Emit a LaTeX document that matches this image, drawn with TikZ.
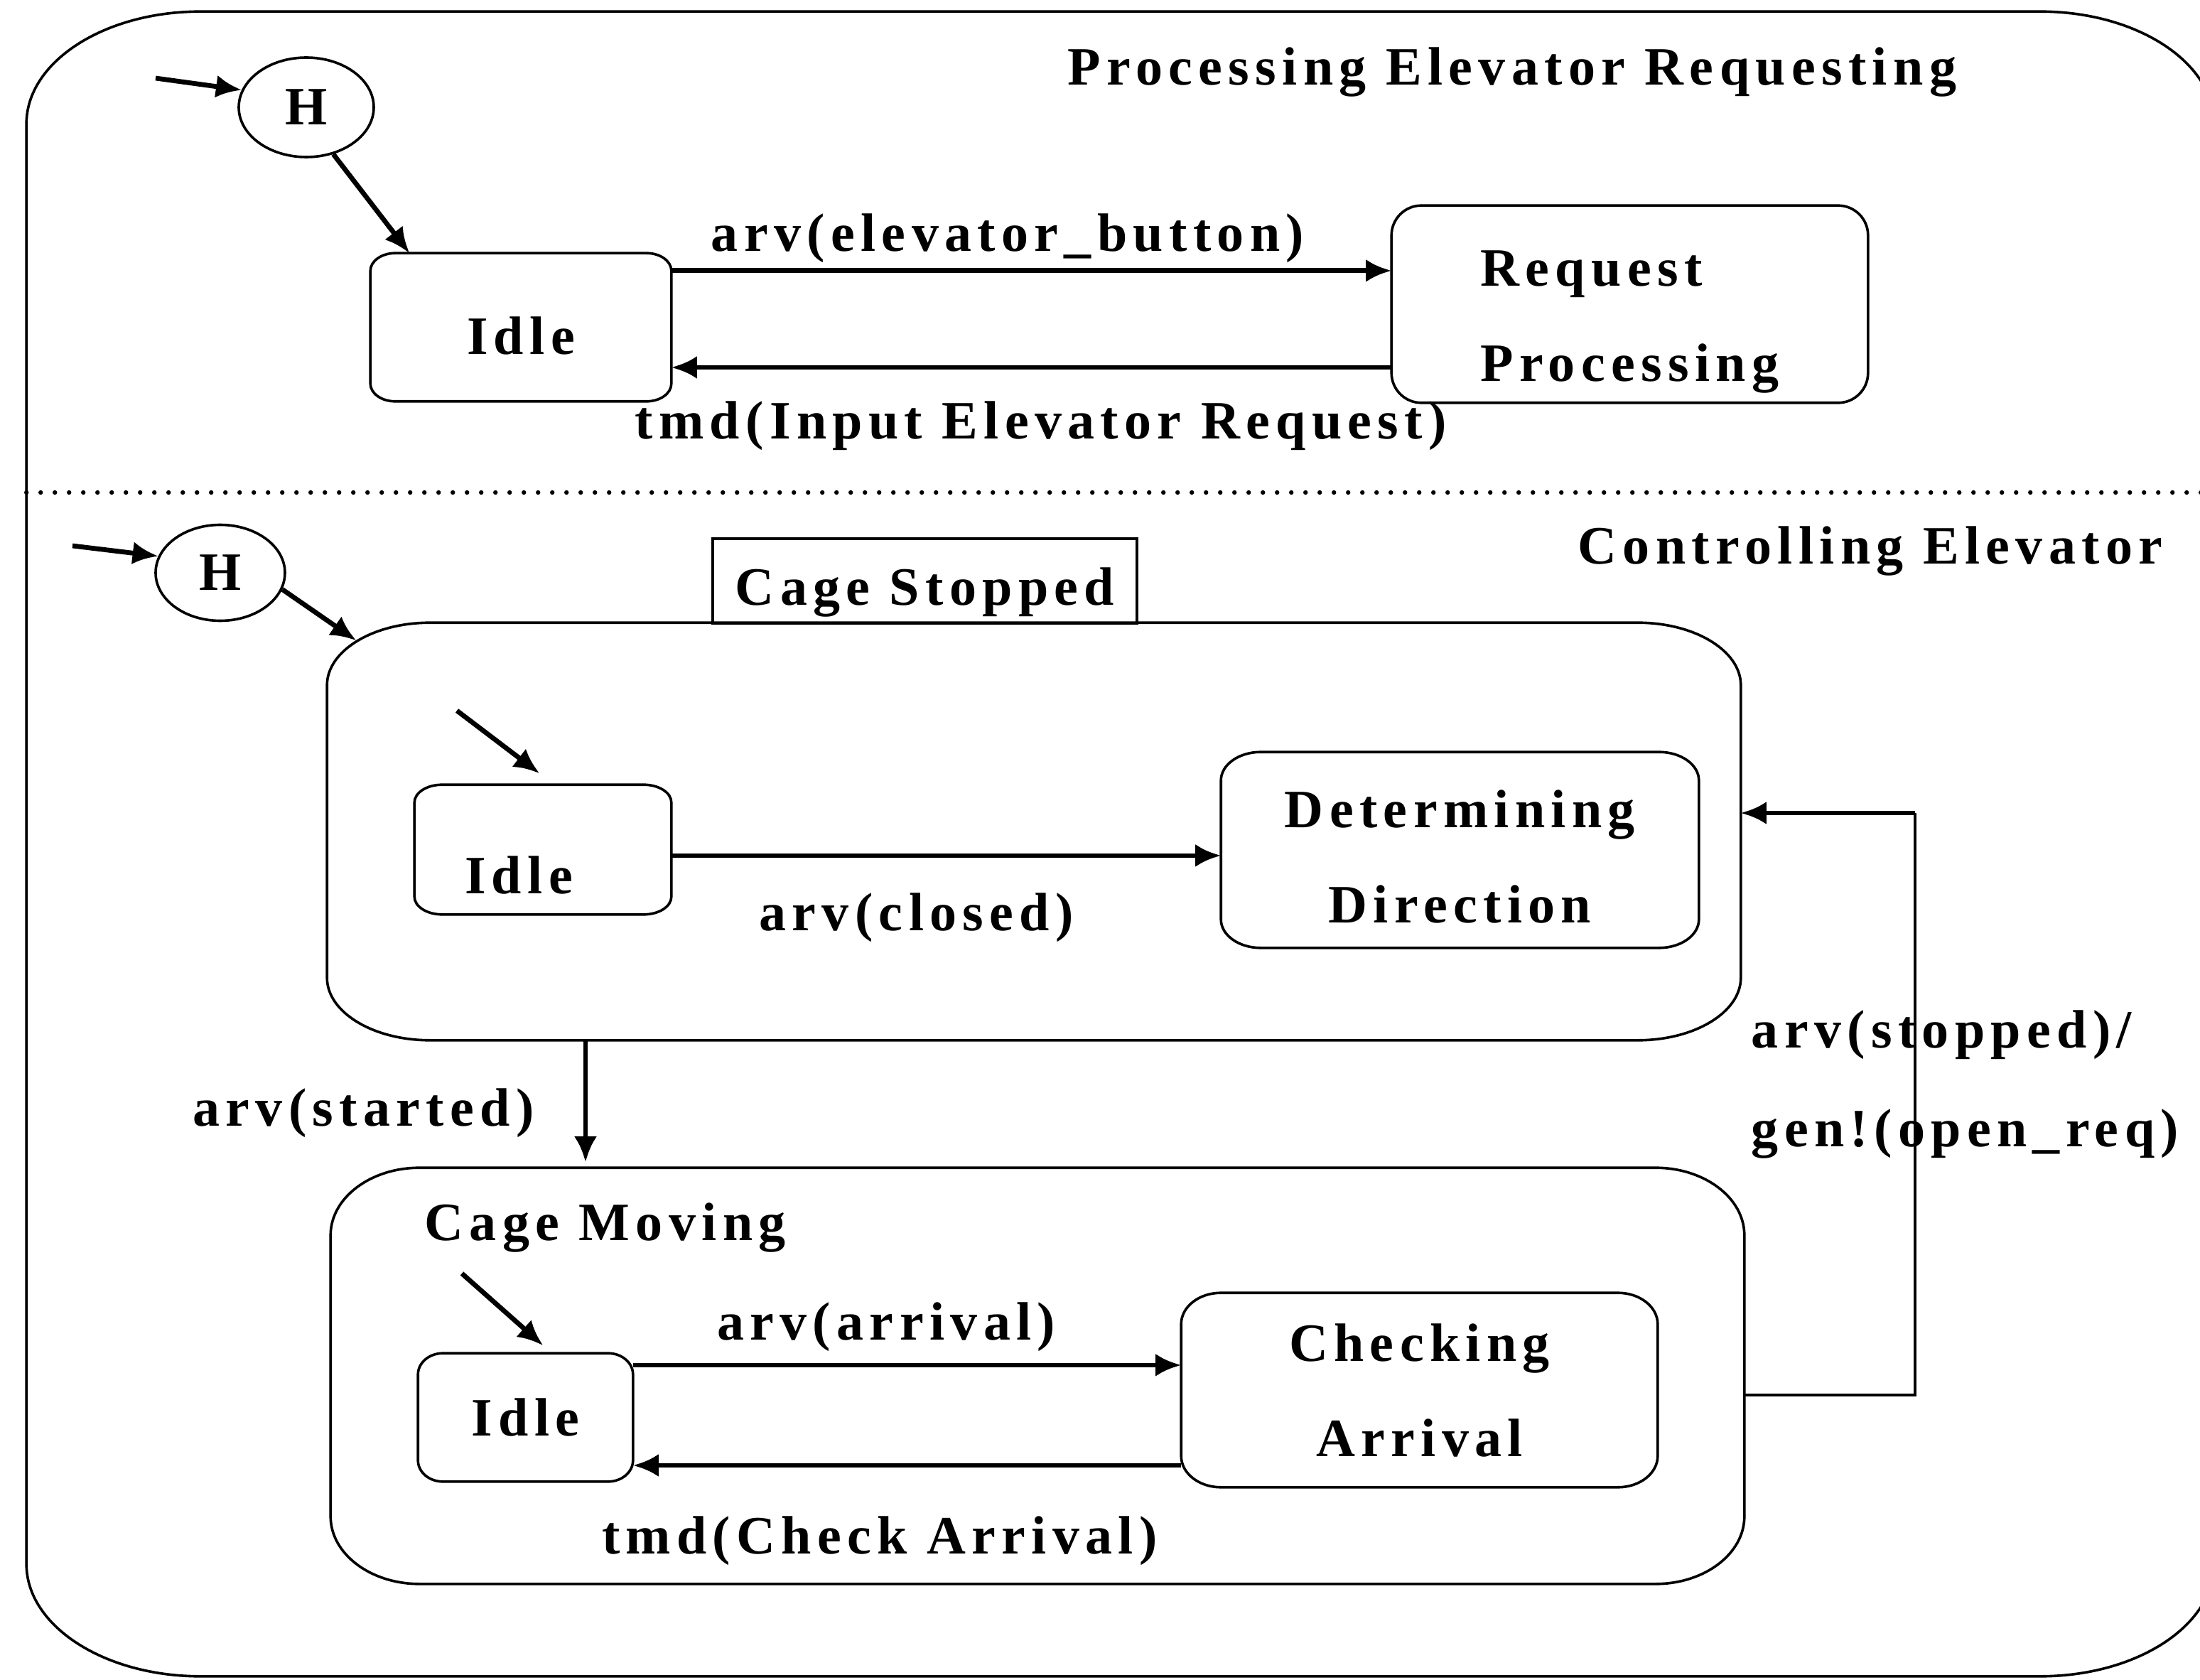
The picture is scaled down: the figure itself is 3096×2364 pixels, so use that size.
\documentclass[tikz,border=0pt]{standalone}
\usepackage{fontspec}
\setmainfont{Liberation Serif}[LetterSpace=11]
\usetikzlibrary{arrows.meta,shapes.geometric,calc}

% outline of a node drawn as a rectangle with elliptical corners
% #1 node name, #2 corner x radius, #3 corner y radius (in picture units)
\newcommand\eframe[3]{%
  \draw[frameline]
    ([xshift=#2*0.25pt]#1.north west) -- ([xshift=-#2*0.25pt]#1.north east)
    arc[start angle=90, end angle=0, x radius=#2*0.25pt, y radius=#3*0.25pt]
    -- ([yshift=#3*0.25pt]#1.south east)
    arc[start angle=0, end angle=-90, x radius=#2*0.25pt, y radius=#3*0.25pt]
    -- ([xshift=#2*0.25pt]#1.south west)
    arc[start angle=270, end angle=180, x radius=#2*0.25pt, y radius=#3*0.25pt]
    -- ([yshift=-#3*0.25pt]#1.north west)
    arc[start angle=180, end angle=90, x radius=#2*0.25pt, y radius=#3*0.25pt]
    -- cycle;}

\tikzset{
  every node/.style={font=\fontsize{19pt}{33.5pt}\selectfont\bfseries, inner sep=0pt},
  sbox/.style 2 args={rectangle, draw=none, minimum width=#1*0.25pt, minimum height=#2*0.25pt},
  frameline/.style={line width=0.9pt},
  thinconn/.style={line width=0.9pt},
  sepline/.style={line width=1.6pt, line cap=round, dash pattern=on 0pt off 5pt},
  arr/.style={line width=1.7pt, -{Latex[length=9pt,width=8pt]}},
  hist/.style={ellipse, draw, line width=0.9pt, inner sep=0pt},
  basedrop/.style={text height=#1, text depth=0pt},
}

\begin{document}
\begin{tikzpicture}[x=0.25pt, y=0.25pt]
  \useasboundingbox (0,0) rectangle (3096,-2364);
  \fill[white] (0,0) rectangle (3096,-2364);
  \clip (0,0) rectangle (3096,-2364);

  % enclosing state and the dotted border between the two concurrent regions
  \node[sbox={3077}{2341}] (outer) at (1576.5,-1187.5) {};
  \eframe{outer}{245}{158}
  \coordinate (sepy) at (0,-693);
  \draw[sepline] (outer.west |- sepy) -- (outer.east |- sepy);

  % ---------- region: Processing Elevator Requesting ----------
  \node[anchor=base] (ttlA) at (2128,-120) {Processing Elevator Requesting};

  \node[hist, minimum width=190*0.25pt, minimum height=140*0.25pt] (h1) at (431,-151) {H};
  \node[sbox={422}{207}, basedrop=18.8pt] (idle1) at (733,-460.5) {Idle};
  \eframe{idle1}{35}{25}
  \node[sbox={669}{276}, align=left] (req) at (2293.5,-428) {\rule{0pt}{25pt}Request\\Processing};
  \eframe{req}{42}{42}

  \coordinate (h1in) at (219,-110);
  \draw[arr] (h1in) -- (h1.165);
  \draw[arr] (h1.-60) -- ([xshift=13.75pt]idle1.north west);

  \path ([yshift=19.9pt]idle1.east) coordinate (e1a);
  \draw[arr] (e1a) -- (e1a -| req.west)
    node[pos=0.467, anchor=base, yshift=6.75pt] (l1a) {arv(elevator\_button)};
  \path ([yshift=-22.25pt]req.west) coordinate (e1b);
  \draw[arr] (e1b) -- (e1b -| idle1.east)
    node[pos=0.487, anchor=base, yshift=-25.25pt] (l1b) {tmd(Input Elevator Request)};

  % ---------- region: Controlling Elevator ----------
  \node[anchor=base] (ttlB) at (2632,-793) {Controlling Elevator};

  \node[hist, minimum width=182*0.25pt, minimum height=135*0.25pt] (h2) at (310,-806) {H};

  % Cage Stopped
  \node[sbox={1988}{586}] (cs) at (1455,-1170) {};
  \eframe{cs}{145}{88}
  \node[sbox={597}{119}, draw, frameline, basedrop=16.8pt] (cstab) at (1301.5,-817.5) {Cage Stopped};

  \coordinate (h2in) at (102,-768);
  \draw[arr] (h2in) -- (h2.165);
  \draw[arr] (h2.-15) -- ([xshift=10.25pt,yshift=-6.25pt]cs.north west);

  \node[sbox={360}{181}, basedrop=31pt] (idle2) at (764,-1195.5) {Idle\hspace*{17pt}};
  \eframe{idle2}{39}{25}
  \node[sbox={671}{274}, align=center] (dd) at (2054.5,-1196) {\rule{0pt}{18pt}Determining\\Direction};
  \eframe{dd}{56}{40}

  \coordinate (i2in) at (643,-1000);
  \draw[arr] (i2in) -- ([xshift=44pt,yshift=4pt]idle2.north west);
  \path ([yshift=-2.1pt]idle2.east) coordinate (e2a);
  \draw[arr] (e2a) -- (e2a -| dd.west)
    node[pos=0.446, anchor=base, yshift=-26.5pt] (l2a) {arv(closed)};

  % Cage Moving
  \node[sbox={1988}{584}] (cm) at (1460,-1936) {};
  \eframe{cm}{125}{95}
  \node[anchor=base west] (cmname) at (597,-1745) {Cage Moving};

  \path ([xshift=-157.75pt]cs.south) coordinate (e3a);
  \draw[arr, shorten >=2pt] (e3a) -- (e3a |- cm.north)
    node[pos=0.674, anchor=base east, xshift=-17.25pt] (l3a) {arv(started)};

  \node[sbox={301}{179}] (idle3) at (739.5,-1994.5) {Idle};
  \eframe{idle3}{35}{30}
  \node[sbox={669}{272}, align=center] (ca) at (1997.5,-1956) {Checking\\Arrival};
  \eframe{ca}{56}{44}

  \coordinate (i3in) at (650,-1792);
  \draw[arr] (i3in) -- ([xshift=44pt,yshift=2.75pt]idle3.north west);
  \path ([yshift=18.4pt]idle3.east) coordinate (e4a);
  \draw[arr] (e4a) -- (e4a -| ca.west)
    node[pos=0.462, anchor=base, yshift=8.75pt] (l4a) {arv(arrival)};
  \path ([yshift=-26.5pt]ca.west) coordinate (e4b);
  \draw[arr] (e4b) -- (e4b -| idle3.east)
    node[pos=0.55, anchor=base, yshift=-31pt] (l4b) {tmd(Check Arrival)};

  % Cage Moving back to Cage Stopped
  \path ([yshift=-6.75pt]cm.east) coordinate (e5a);
  \path ([yshift=6.5pt]cs.east) coordinate (e5b);
  \draw[thinconn] (e5a) -- ++(240,0) coordinate (e5c) -- (e5c |- e5b) coordinate (e5d);
  \draw[arr] (e5d) -- (e5b);
  \node[anchor=base west] (l5a) at (2464,-1474) {arv(stopped)/};
  \node[anchor=base west] (l5b) at (2464,-1613) {gen!(open\_req)};
\end{tikzpicture}
\end{document}
